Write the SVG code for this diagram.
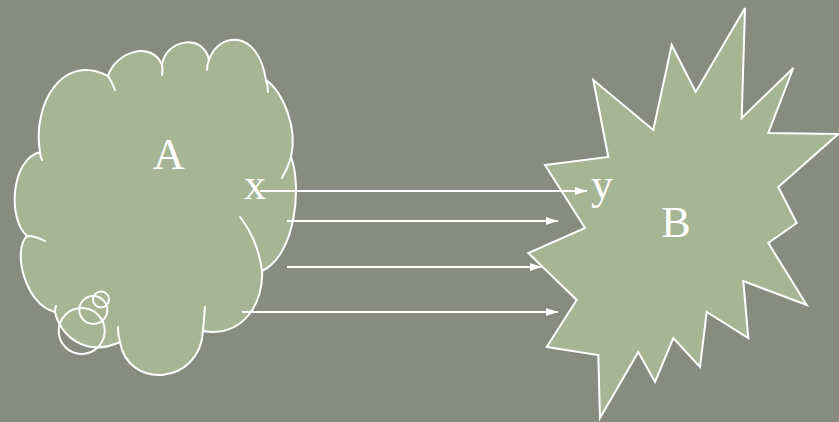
<svg xmlns="http://www.w3.org/2000/svg" width="839" height="422" viewBox="0 0 839 422">
  <defs>
    <style>
      .bg { fill: #878c7f; }
      .shape { fill: #a6b594; }
      .edge { fill: none; stroke: #ffffff; stroke-width: 2; stroke-linecap: round; stroke-linejoin: miter; }
      .conn { stroke: #ffffff; stroke-width: 2; fill: none; }
      .lbl { font-family: "Liberation Serif", "Times New Roman", serif; font-size: 44px; fill: #ffffff; }
    </style>
    <marker id="arrow" viewBox="0 0 12 8" refX="12" refY="4" markerWidth="12" markerHeight="8" markerUnits="userSpaceOnUse" orient="auto">
      <path d="M0,0 L12,4 L0,8 Z" fill="#ffffff"/>
    </marker>
  </defs>

  <rect class="bg" x="0" y="0" width="839" height="422"/>

  <g id="nodeA">
    <path class="shape" d="M40,152 C32,105 62,52 108,76 C115,52 152,40 162,65 C165,40 203,32 209,60 C218,32 258,28 266,80 C283,92 298,128 291,157 C302,185 296,255 262,271 C264,300 245,338 203,331 C200,385 128,390 120,342 C85,358 60,335 55,312 C25,305 12,250 27,236 C8,220 10,160 40,152 Z"/>
    <path class="edge" d="M42,160 Q40,156 40,152 C32,105 62,52 108,76 Q112,82 115,90"/>
    <path class="edge" d="M108,76 C115,52 152,40 162,65 Q163,70 162,75"/>
    <path class="edge" d="M162,65 C165,40 203,32 209,60"/>
    <path class="edge" d="M207,70 Q207,65 209,60 C218,32 258,28 266,80 Q268,86 268,92"/>
    <path class="edge" d="M266,80 C283,92 298,128 291,157 Q288,168 282,178"/>
    <path class="edge" d="M291,157 C302,185 296,255 262,271"/>
    <path class="edge" d="M240,217 Q258,240 262,271 C264,300 245,338 203,331"/>
    <path class="edge" d="M205,307 Q204,320 203,331 C200,385 128,390 120,342 Q118,335 118,327"/>
    <path class="edge" d="M120,342 C85,358 60,335 55,312 Q55,309 56,306"/>
    <path class="edge" d="M55,312 C25,305 12,250 27,236 Q36,236 45,241"/>
    <path class="edge" d="M27,236 C8,220 10,160 40,152"/>
    <circle class="edge" cx="81.7" cy="331" r="23"/>
    <circle class="edge" cx="93.3" cy="310" r="14"/>
    <circle class="edge" cx="101" cy="299.5" r="8"/>
    <text class="lbl" x="169" y="169" text-anchor="middle">A</text>
    <text class="lbl" x="255" y="199" text-anchor="middle">x</text>
  </g>

  <g id="nodeB">
    <path class="shape edge" style="fill:#a6b594" d="M745,8 L741.7,118 L793.3,68 L768.3,133 L838.3,134 L778.3,187 L796.7,223 L768.3,243 L806.7,305 L743.3,281 L748.3,338 L706.7,312 L700,367 L673.3,338 L655,382 L638.3,352 L600,418 L598.3,355 L546.7,347 L576.7,300 L528.3,253 L585,228 L545,165 L608.3,157 L593.3,80 L653.3,130 L671.7,45 L695.7,92 Z"/>
    <text class="lbl" x="676" y="237" text-anchor="middle">B</text>
    <text class="lbl" x="602" y="199" text-anchor="middle">y</text>
  </g>

  <g id="connectors">
    <line class="conn" x1="260" y1="191" x2="587" y2="191" marker-end="url(#arrow)"/>
    <line class="conn" x1="287" y1="221" x2="558" y2="221" marker-end="url(#arrow)"/>
    <line class="conn" x1="287" y1="267" x2="542" y2="267" marker-end="url(#arrow)"/>
    <line class="conn" x1="242" y1="312" x2="558" y2="312" marker-end="url(#arrow)"/>
  </g>
</svg>
